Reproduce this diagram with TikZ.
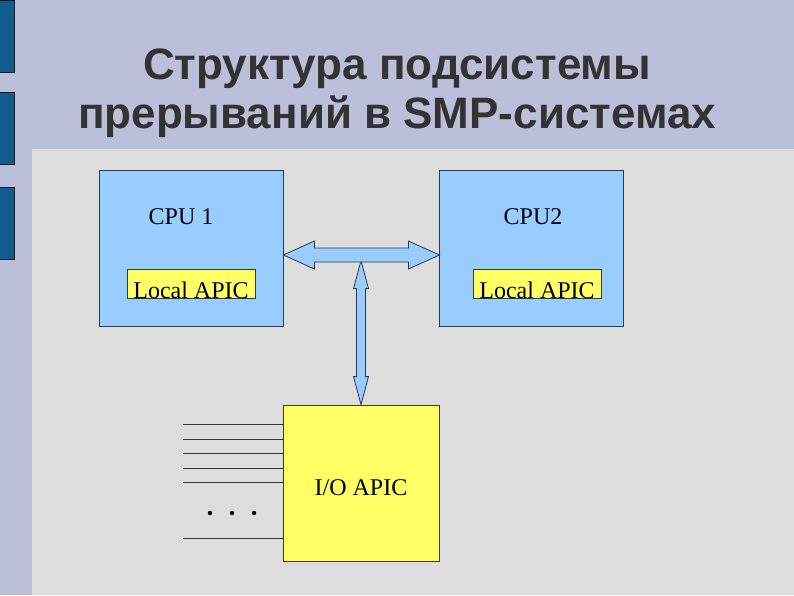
\documentclass[tikz,border=0pt]{standalone}
\usepackage{fontspec}
\setmainfont{Liberation Serif}
\newfontfamily\titlefont{Liberation Sans}
\usepackage{xcolor}
\usetikzlibrary{arrows.meta,positioning,calc}

\definecolor{slidebg}{HTML}{BBBFD9}
\definecolor{panelbg}{HTML}{DDDDDD}
\definecolor{tabblue}{HTML}{125C8F}
\definecolor{cpublue}{HTML}{99CCFF}
\definecolor{apicyel}{HTML}{FFFF66}
\definecolor{edge}{HTML}{2B3A4C}
\definecolor{titlegray}{HTML}{333333}

\begin{document}
\begin{tikzpicture}[
  x=1pt, y=-1pt,
  cpubox/.style={draw=edge, fill=cpublue, line width=0.8pt, minimum width=184pt, minimum height=156pt, inner sep=0pt},
  apicbox/.style={draw=edge, fill=apicyel, line width=0.8pt, inner sep=0pt, font=\fontsize{24}{26}\selectfont},
  lapic/.style={apicbox, minimum width=128pt, text height=29pt, text depth=0pt, inner ysep=0pt},
  label/.style={font=\fontsize{24}{26}\selectfont, inner sep=0pt},
  bus/.style={draw=edge, fill=cpublue, line width=0.8pt, line join=miter},
  irq/.style={draw=titlegray, line width=0.9pt},
  tab/.style={draw=black!70!tabblue, fill=tabblue, line width=0.8pt},
  heading/.style={font=\titlefont\bfseries\fontsize{44}{50}\selectfont, text=titlegray, anchor=base}
]
% slide background
\useasboundingbox (0,0) rectangle (794,595);
\fill[slidebg] (0,0) rectangle (794,595);
\fill[panelbg] (32,149) rectangle (794,595);
\draw[tab] (-1,0) rectangle (14,72);
\draw[tab] (-1,92) rectangle (14,164);
\draw[tab] (-1,187) rectangle (14,259);

% title
\node[heading] (title1) at (397,79) {Структура подсистемы};
\node[heading] (title2) at (397,128) {прерываний в SMP-системах};

% boxes
\node[cpubox] (cpu1) at (191,248) {};
\node[cpubox, right=156pt of cpu1] (cpu2) {};
\node[apicbox, minimum width=156pt, minimum height=156pt] (ioapic) at (361,483) {};
\node[label] (cpu1txt) at (181,217) {CPU 1};
\node[label] (cpu2txt) at (533,217) {CPU2};
\node[label] (iotxt) at ($(ioapic.center)+(0,5)$) {I/O APIC};
\node[lapic] (lapic1) at (191,283.5) {Local APIC};
\node[lapic] (lapic2) at (537,283.5) {Local APIC};

% bus arrows
\coordinate (hl) at ($(cpu1.east)+(0,7)$);
\coordinate (hr) at ($(cpu2.west)+(0,7)$);
\coordinate (vt) at ($(ioapic.north)+(0,-144)$);
\coordinate (vb) at (ioapic.north);
\draw[bus] (vt) -- ++(7.5,28) -- ++(-3,0) -- ($(vb)+(4.5,-28)$) -- ++(3,0) -- (vb)
  -- ++(-7.5,-28) -- ++(3,0) -- ($(vt)+(-4.5,28)$) -- ++(-3,0) -- cycle;
\draw[bus] (hl) -- ++(31,-14) -- ++(0,7) -- ($(hr)+(-31,-7)$) -- ++(0,-7) -- (hr)
  -- ++(-31,14) -- ++(0,-7) -- ($(hl)+(31,7)$) -- ++(0,7) -- cycle;

% interrupt lines
\foreach \i/\y in {1/424,2/439,3/453,4/468,5/482,6/538} {
  \coordinate (irq\i) at (183,\y);
  \draw[irq] (irq\i) -- (irq\i -| ioapic.west);
}
\foreach \x in {210,232,254}
  \fill (\x,513) circle (2.2);
\end{tikzpicture}
\end{document}
